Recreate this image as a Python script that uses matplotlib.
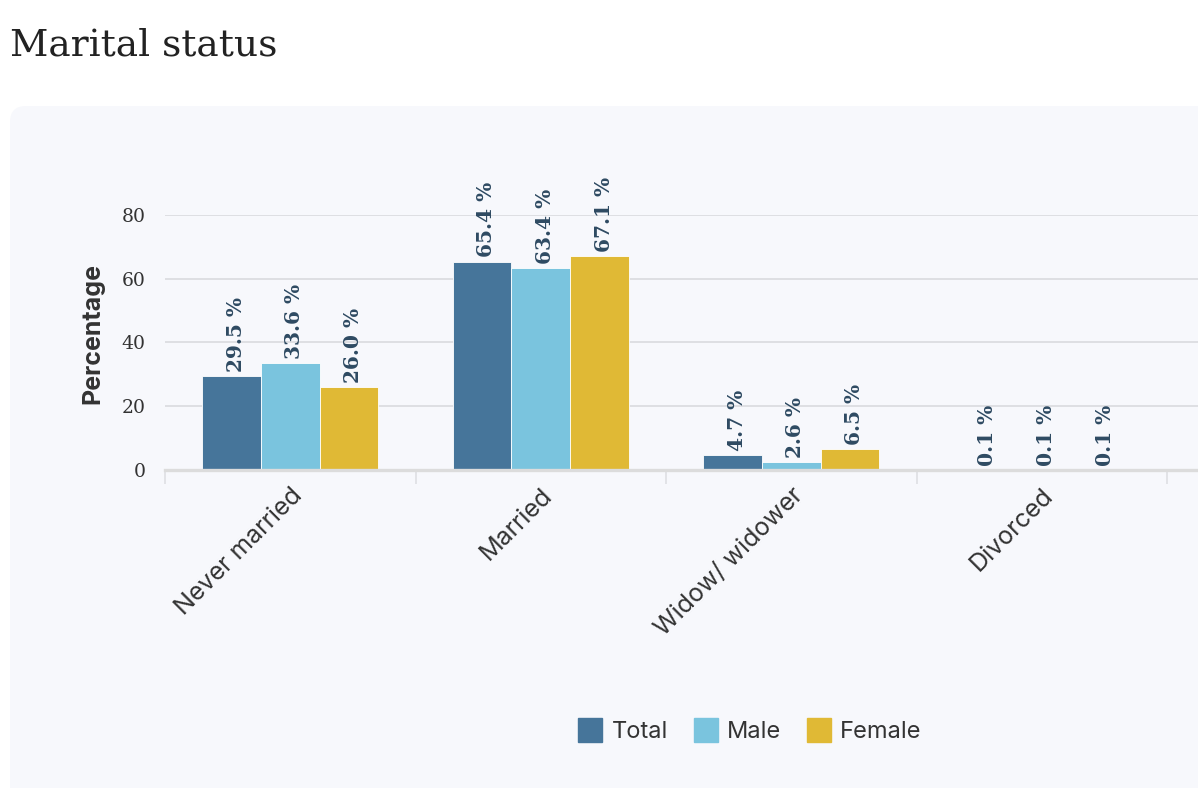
import matplotlib
matplotlib.use("Agg")
import matplotlib.pyplot as plt
from matplotlib.patches import FancyBboxPatch
from matplotlib.lines import Line2D
import numpy as np

# data
categories = ["Never married", "Married", "Widow/ widower", "Divorced"]
series_names = ["Total", "Male", "Female"]
total = [29.5, 65.4, 4.7, 0.1]
male = [33.6, 63.4, 2.6, 0.1]
female = [26.0, 67.1, 6.5, 0.1]
y_ticks = [0, 20, 40, 60, 80]

colors = ["#46759A", "#7AC4DE", "#E0B935"]
label_color = "#2E4A62"
text_color = "#333333"
grid_color = "#DEDFE3"
panel_color = "#F7F8FC"

W, H = 1198, 788
fig = plt.figure(figsize=(W / 100, H / 100), dpi=100)
fig.patch.set_facecolor("white")

# light rounded panel behind the chart (pixel coordinates)
panel = FancyBboxPatch((10, -40), 1260, H - 106 + 40,
                       boxstyle="round,pad=0,rounding_size=16",
                       transform=None, facecolor=panel_color,
                       edgecolor="none", zorder=-5)
fig.patches.append(panel)

fig.text(10 / W, 1 - 55 / H, "Marital status", family="DejaVu Serif",
         fontsize=27, color="#222222", ha="left", va="baseline")

left, right, top, bottom = 165, 1198, 215, 470
ax = fig.add_axes([left / W, 1 - bottom / H, (right - left) / W, (bottom - top) / H])
ax.set_facecolor("none")

x = np.arange(len(categories))
width = 0.234
for i, (vals, name) in enumerate(zip([total, male, female], series_names)):
    pos = x + (i - 1) * width
    bars = ax.bar(pos, vals, width, color=colors[i], edgecolor="white",
                  linewidth=0.6, zorder=3, label=name)
    for b, v in zip(bars, vals):
        ax.annotate(f"{v:.1f} %", (b.get_x() + b.get_width() / 2, v),
                    xytext=(3, 3), textcoords="offset points",
                    rotation=90, ha="center", va="bottom",
                    family="DejaVu Serif", fontweight="bold",
                    fontsize=14.5, color=label_color, annotation_clip=False,
                    zorder=4)

ax.set_ylim(0, 80)
ax.set_xlim(-0.5, -0.5 + (right - left) / 250.5)
ax.set_yticks(y_ticks)
ax.set_yticklabels([str(t) for t in y_ticks], family="DejaVu Serif",
                   fontsize=13.5, color=text_color)
ax.tick_params(axis="y", length=0, pad=14)
ax.yaxis.grid(True, color=grid_color, linewidth=1.4, zorder=1)
ax.set_axisbelow(True)

ax.set_xticks(x)
ax.set_xticklabels(categories, rotation=45, ha="right",
                   rotation_mode="anchor", family="Inter",
                   fontsize=18, color=text_color)
ax.tick_params(axis="x", which="major", length=0, pad=10)
ax.set_xticks(np.arange(-0.5, len(categories)), minor=True)
ax.tick_params(axis="x", which="minor", length=10, width=1.2,
               color=grid_color)

for s in ["top", "right", "left"]:
    ax.spines[s].set_visible(False)
ax.spines["bottom"].set_color("#DCDCDC")
ax.spines["bottom"].set_linewidth(2.4)
ax.spines["bottom"].set_zorder(5)

fig.text(93 / W, 1 - 334 / H, "Percentage", rotation=90, family="Inter",
         fontweight="bold", fontsize=18, color=text_color,
         ha="center", va="center")

handles = [Line2D([], [], marker="s", linestyle="none", markersize=17,
                  markerfacecolor=c, markeredgecolor=c) for c in colors]
fig.legend(handles, series_names, loc="center",
           bbox_to_anchor=(749 / W, 1 - 732 / H), ncol=3, frameon=False,
           prop={"family": "Inter", "size": 17}, labelcolor=text_color,
           handletextpad=0.3, columnspacing=1.0, handlelength=1.2)

fig.savefig("out.png", dpi=100, facecolor=fig.get_facecolor())
